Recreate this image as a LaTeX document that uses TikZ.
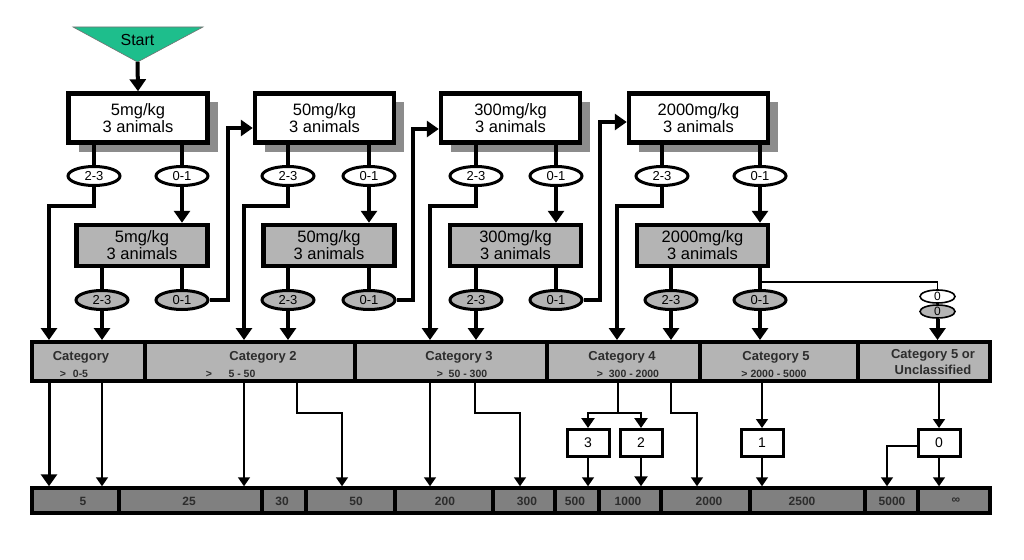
\documentclass[tikz,border=0pt]{standalone}
\usepackage{fontspec}
\setmainfont{Liberation Sans}
\usetikzlibrary{arrows.meta,shapes.geometric,shadows}
\definecolor{startgreen}{RGB}{30,190,140}
\definecolor{lgray}{RGB}{180,180,180}
\definecolor{dgray}{RGB}{128,128,128}
\definecolor{shgray}{RGB}{140,140,140}
\definecolor{txtgray}{RGB}{45,45,45}
\tikzset{
 dosebox/.style={draw, line width=4.5pt, minimum width=139pt, minimum height=49pt, inner sep=0pt, align=center, font=\fontsize{16.5}{17}\selectfont},
 whitebox/.style={dosebox, fill=white, drop shadow={shadow xshift=10pt, shadow yshift=-9pt, fill=shgray, opacity=1}},
 graybox/.style={dosebox, fill=lgray, minimum width=131pt, minimum height=41pt},
 oval/.style={ellipse, draw, line width=3pt, minimum width=52pt, minimum height=19pt, inner sep=0pt, font=\fontsize{13}{13}\selectfont, fill=white},
 grayoval/.style={oval, fill=lgray},
 zoval/.style={ellipse, draw, line width=1.6pt, minimum width=35pt, minimum height=13pt, inner sep=0pt, font=\fontsize{12}{12}\selectfont},
 thickln/.style={line width=4pt},
 thinln/.style={line width=1.6pt},
 medln/.style={line width=2.6pt},
 thickarr/.style={line width=4pt, -{Triangle[width=16pt,length=12pt]}},
 thinarr/.style={line width=1.6pt, -{Triangle[width=12pt,length=9pt]}},
 medarr/.style={line width=2.6pt, -{Triangle[width=13pt,length=10pt]}},
 catseg/.style={draw, line width=4pt, fill=lgray, minimum height=39pt, inner sep=0pt},
 valseg/.style={draw, line width=3.5pt, fill=dgray, minimum height=25pt, inner sep=0pt},
 resbox/.style={draw, line width=3pt, fill=white, minimum width=42pt, minimum height=27pt, inner sep=0pt, font=\fontsize{14}{14}\selectfont},
 cattxt/.style={inner sep=0pt, text=txtgray, font=\bfseries\fontsize{13}{14}\selectfont},
 rngtxt/.style={inner sep=0pt, text=txtgray, font=\bfseries\fontsize{10.5}{11}\selectfont},
 valtxt/.style={inner sep=0pt, text=txtgray, font=\bfseries\fontsize{12}{12}\selectfont}
}
\begin{document}
\begin{tikzpicture}[x=1pt,y=-1pt]
\useasboundingbox (0,0) rectangle (1024,559);

% start
\coordinate (startapex) at (137.5,62);
\filldraw[fill=startgreen, draw=black!55, line width=0.6pt] (73,27) -- (203,27) -- (startapex) -- cycle;
\node[font=\fontsize{16}{16}\selectfont] (start) at (137.5,40) {Start};

% top boxes
\node[whitebox] (b1) at (138,118) {5mg/kg\\3 animals};
\node[whitebox] (b2) at (324.5,118) {50mg/kg\\3 animals};
\node[whitebox] (b3) at (510.5,118) {300mg/kg\\3 animals};
\node[whitebox] (b4) at (698.5,118) {2000mg/kg\\3 animals};

% gray boxes
\node[graybox] (g1) at (142,245.5) {5mg/kg\\3 animals};
\node[graybox] (g2) at (329,245.5) {50mg/kg\\3 animals};
\node[graybox] (g3) at (515.5,245.5) {300mg/kg\\3 animals};
\node[graybox] (g4) at (702.5,245.5) {2000mg/kg\\3 animals};

% category bar
\node[catseg, minimum width=113pt] (cat1) at (88.5,361.5) {};
\node[catseg, minimum width=210pt] (cat2) at (250,361.5) {};
\node[catseg, minimum width=192pt] (cat3) at (451,361.5) {};
\node[catseg, minimum width=153pt] (cat4) at (623.5,361.5) {};
\node[catseg, minimum width=158pt] (cat5) at (779,361.5) {};
\node[catseg, minimum width=132pt] (cat6) at (924,361.5) {};

\node[cattxt] (ct1) at (81,357) {Category};
\node[rngtxt] (cr1a) at (63,374) {>};
\node[rngtxt] (cr1b) at (80.5,374) {0-5};
\node[cattxt] (ct2) at (263,357) {Category 2};
\node[rngtxt] (cr2a) at (209,374) {>};
\node[rngtxt] (cr2b) at (242,374) {5 - 50};
\node[cattxt] (ct3) at (459,357) {Category 3};
\node[rngtxt] (cr3) at (462,374) {>\ \ 50 - 300};
\node[cattxt] (ct4) at (622,357) {Category 4};
\node[rngtxt] (cr4) at (628,374) {>\ \ 300 - 2000};
\node[cattxt] (ct5) at (776,357) {Category 5};
\node[rngtxt] (cr5) at (774,374) {> 2000 - 5000};
\node[cattxt, align=center, font=\bfseries\fontsize{13}{16}\selectfont] (ct6) at (933,362.5) {Category 5 or\\Unclassified};

% value bar
\node[valseg, minimum width=87pt] (n1) at (75.5,500.5) {};
\node[valseg, minimum width=143pt] (n2) at (190.5,500.5) {};
\node[valseg, minimum width=44pt] (n3) at (284,500.5) {};
\node[valseg, minimum width=89pt] (n4) at (350.5,500.5) {};
\node[valseg, minimum width=98pt] (n5) at (444,500.5) {};
\node[valseg, minimum width=62pt] (n6) at (524,500.5) {};
\node[valseg, minimum width=44pt] (n7) at (577,500.5) {};
\node[valseg, minimum width=62pt] (n8) at (630,500.5) {};
\node[valseg, minimum width=89pt] (n9) at (705.5,500.5) {};
\node[valseg, minimum width=115pt] (n10) at (807.5,500.5) {};
\node[valseg, minimum width=53pt] (n11) at (891.5,500.5) {};
\node[valseg, minimum width=72pt] (n12) at (954,500.5) {};

\node[valtxt] (v1) at (83,501) {5};
\node[valtxt] (v2) at (189,501) {25};
\node[valtxt] (v3) at (282,501) {30};
\node[valtxt] (v4) at (356,501) {50};
\node[valtxt] (v5) at (445,501) {200};
\node[valtxt] (v6) at (527,501) {300};
\node[valtxt] (v7) at (575,501) {500};
\node[valtxt] (v8) at (628,501) {1000};
\node[valtxt] (v9) at (709,501) {2000};
\node[valtxt] (v10) at (802,501) {2500};
\node[valtxt] (v11) at (892,501) {5000};
\node[valtxt] (v12) at (956,501) {∞};

% white ovals
\node[oval] (w1a) at (94,176) {2-3};
\node[oval] (w1b) at (182,176) {0-1};
\node[oval] (w2a) at (288,176) {2-3};
\node[oval] (w2b) at (369,176) {0-1};
\node[oval] (w3a) at (476,176) {2-3};
\node[oval] (w3b) at (556,176) {0-1};
\node[oval] (w4a) at (662,176) {2-3};
\node[oval] (w4b) at (760,176) {0-1};

% gray ovals
\node[grayoval] (e1a) at (102,300) {2-3};
\node[grayoval] (e1b) at (182,300) {0-1};
\node[grayoval] (e2a) at (288,300) {2-3};
\node[grayoval] (e2b) at (369,300) {0-1};
\node[grayoval] (e3a) at (476,300) {2-3};
\node[grayoval] (e3b) at (556,300) {0-1};
\node[grayoval] (e4a) at (671,300) {2-3};
\node[grayoval] (e4b) at (760,300) {0-1};

% small zero ovals
\node[zoval, fill=white] (z1) at (937.5,296.5) {0};
\node[zoval, fill=lgray] (z2) at (937.5,311.5) {0};

% result boxes
\node[resbox] (s3) at (588,443) {3};
\node[resbox] (s2) at (641,443) {2};
\node[resbox] (s1) at (762,443) {1};
\node[resbox] (s0) at (939,443) {0};

% coordinates of bends
\coordinate (k1) at (49,206);
\coordinate (k2) at (244,206);
\coordinate (k3) at (430,206);
\coordinate (k4) at (617,206);
\coordinate (r1) at (228,128);
\coordinate (r2) at (413,129);
\coordinate (r3) at (600,122);
\coordinate (br) at (760,282);
\coordinate (m1) at (297,413);
\coordinate (m1e) at (342,413);
\coordinate (m2) at (475,413);
\coordinate (m2e) at (520,413);
\coordinate (m3) at (618,413);
\coordinate (m4) at (671,413);
\coordinate (m4e) at (697,413);
\coordinate (m5) at (887,446);

% start arrow
\draw[thickarr] (startapex) -- (b1.north);

% box -> white oval lines
\foreach \b/\o in {b1/w1a,b1/w1b,b2/w2a,b2/w2b,b3/w3a,b3/w3b,b4/w4a,b4/w4b}
  \draw[thickln] (\o |- \b.south) -- (\o.north);
% gray box -> gray oval lines
\foreach \b/\o in {g1/e1a,g1/e1b,g2/e2a,g2/e2b,g3/e3a,g3/e3b,g4/e4a,g4/e4b}
  \draw[thickln] (\o |- \b.south) -- (\o.north);

% 0-1 white -> gray box
\foreach \o/\g in {w1b/g1,w2b/g2,w3b/g3,w4b/g4}
  \draw[thickarr] (\o.south) -- (\o.south |- \g.north);

% 2-3 white -> category
\draw[thickarr] (w1a.south) |- (k1) -- (k1 |- cat1.north);
\draw[thickarr] (w2a.south) |- (k2) -- (k2 |- cat2.north);
\draw[thickarr] (w3a.south) |- (k3) -- (k3 |- cat3.north);
\draw[thickarr] (w4a.south) |- (k4) -- (k4 |- cat4.north);

% 2-3 gray -> category
\draw[thickarr] (e1a.south) -- (e1a.south |- cat1.north);
\draw[thickarr] (e2a.south) -- (e2a.south |- cat2.north);
\draw[thickarr] (e3a.south) -- (e3a.south |- cat3.north);
\draw[thickarr] (e4a.south) -- (e4a.south |- cat4.north);
\draw[thickarr] (e4b.south) -- (e4b.south |- cat5.north);

% 0-1 gray -> next dose
\draw[thickarr] (e1b.east) -| (r1) -- (r1 -| b2.west);
\draw[thickarr] (e2b.east) -| (r2) -- (r2 -| b3.west);
\draw[thickarr] (e3b.east) -| (r3) -- (r3 -| b4.west);

% 0 branch
\draw[thinln] (br) -| (z1.north);
\draw[thickarr] (z2.south) -- (z2.south |- cat6.north);

% category -> values
\draw[thickarr, line width=3pt] (cat1.south -| k1) -- (n1.north -| k1);
\draw[thinarr] (cat1.south -| e1a) -- (n1.north -| e1a);
\draw[thinarr] (cat2.south -| k2) -- (n2.north -| k2);
\draw[thinarr] (cat2.south -| m1) -- (m1) -- (m1e) -- (n4.north -| m1e);
\draw[thinarr] (cat3.south -| k3) -- (n5.north -| k3);
\draw[thinarr] (cat3.south -| m2) -- (m2) -- (m2e) -- (n6.north -| m2e);
\draw[medln] (cat4.south -| m3) -- (m3);
\draw[medarr] (m3) -| (s3.north);
\draw[medarr] (m3) -| (s2.north);
\draw[thinarr] (s3.south) -- (s3.south |- n7.north);
\draw[medarr] (s2.south) -- (s2.south |- n8.north);
\draw[thinarr] (cat4.south -| m4) -- (m4) -- (m4e) -- (n9.north -| m4e);
\draw[thinarr] (cat5.south -| s1) -- (s1.north);
\draw[thinarr] (s1.south) -- (s1.south |- n10.north);
\draw[thinarr] (cat6.south -| s0) -- (s0.north);
\draw[thinarr] (s0.south) -- (s0.south |- n12.north);
\draw[thinarr] (s0.west |- m5) -- (m5) -- (m5 |- n11.north);
\end{tikzpicture}
\end{document}
